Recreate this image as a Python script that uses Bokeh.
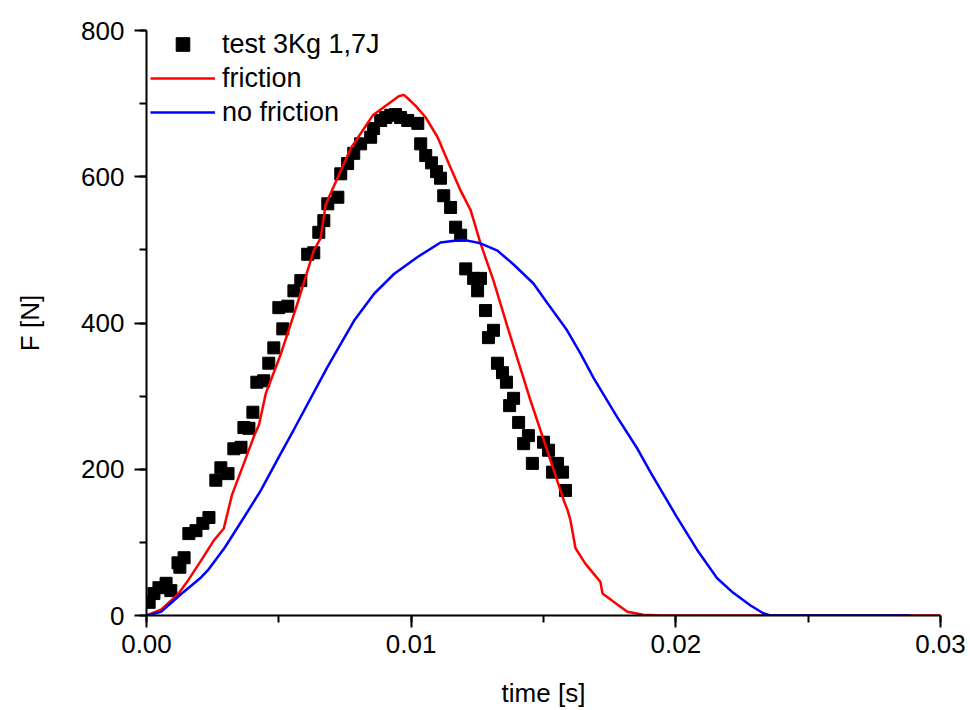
from bokeh.plotting import figure
from bokeh.models import Range1d, SingleIntervalTicker, PrintfTickFormatter, Legend, LegendItem
from bokeh.embed import file_html
from bokeh.resources import INLINE

# measured data: test 3Kg 1,7J
test_t = [0.0001, 0.00028, 0.00047, 0.00074, 0.00092, 0.00119, 0.00126, 0.00142, 0.00160, 0.00187,
          0.00213, 0.00236, 0.00262, 0.00281, 0.00308, 0.00330, 0.00357, 0.00368, 0.00387, 0.00402,
          0.00417, 0.00443, 0.00462, 0.00481, 0.00500, 0.00515, 0.00534, 0.00557, 0.00583, 0.00609,
          0.00632, 0.00651, 0.00670, 0.00685, 0.00723, 0.00734, 0.00760, 0.00783, 0.00809, 0.00847,
          0.00858, 0.00885, 0.00904, 0.00923, 0.00941, 0.00960, 0.00987, 0.01025, 0.01036, 0.01055,
          0.01077, 0.01096, 0.01111, 0.01123, 0.01149, 0.01168, 0.01187, 0.01206, 0.01236, 0.01262,
          0.01251, 0.01281, 0.01311, 0.01292, 0.01326, 0.01345, 0.01360, 0.01387, 0.01372, 0.01406,
          0.01425, 0.01443, 0.01458, 0.01500, 0.01519, 0.01534, 0.01553, 0.01572, 0.01583]
test_F = [18, 30, 38, 44, 34, 72, 66, 79, 112, 116,
          126, 134, 185, 202, 194, 228, 230, 257, 256, 278,
          319, 321, 345, 366, 421, 392, 423, 444, 458, 494,
          496, 524, 540, 563, 572, 604, 618, 632, 645, 654,
          666, 677, 681, 684, 685, 681, 677, 673, 645, 629,
          619, 607, 598, 574, 558, 531, 520, 474, 461, 461,
          444, 417, 390, 380, 345, 332, 319, 297, 287, 264,
          235, 246, 208, 237, 226, 196, 208, 196, 171]

# model with friction
fric_t = [0.0, 0.00055, 0.00119, 0.00157, 0.00206, 0.00255, 0.00292, 0.00323, 0.00368, 0.00406,
          0.00425, 0.00451, 0.00508, 0.00568, 0.00632, 0.00658, 0.00677, 0.00704, 0.00772, 0.00855,
          0.00953, 0.00972, 0.00985, 0.01017, 0.01055, 0.01100, 0.01142, 0.01187, 0.01225, 0.01262,
          0.01311, 0.01368, 0.01451, 0.01577, 0.01591, 0.01602, 0.01621, 0.01658, 0.01715, 0.01723,
          0.01779, 0.01817, 0.01877, 0.0194, 0.030]
fric_F = [0, 8, 29, 48, 75, 103, 119, 165, 208, 245,
          261, 304, 358, 424, 499, 516, 562, 584, 639, 684,
          710, 712, 708, 697, 681, 654, 618, 581, 554, 509,
          458, 390, 294, 157, 144, 130, 92, 71, 46, 30,
          15, 5, 1, 0, 0]

# model without friction
nofr_t = [0.0, 0.00055, 0.0013, 0.00206, 0.00232, 0.00296, 0.00368, 0.00432, 0.00508, 0.00558,
          0.00684, 0.00784, 0.00860, 0.00935, 0.01023, 0.01111, 0.01194, 0.01262, 0.01326, 0.01387,
          0.01462, 0.01515, 0.01589, 0.01640, 0.01689, 0.01779, 0.01855, 0.01904, 0.0200, 0.02080,
          0.02156, 0.02217, 0.02281, 0.02330, 0.02357, 0.02885]
nofr_F = [0, 5, 29, 52, 62, 93, 134, 171, 222, 255,
          340, 403, 440, 467, 490, 510, 514, 509, 499, 480,
          454, 427, 390, 358, 325, 271, 228, 196, 137, 90,
          51, 31, 14, 3, 0, 0]

FONT = "Liberation Sans"

p = figure(width=970, height=710, output_backend="svg", toolbar_location=None,
           x_range=Range1d(0, 0.03), y_range=Range1d(0, 800),
           min_border_left=146, min_border_right=30, min_border_top=30, min_border_bottom=95)
p.outline_line_color = None
p.xgrid.grid_line_color = None
p.ygrid.grid_line_color = None
p.background_fill_color = "white"
p.border_fill_color = "white"

sq = p.scatter(test_t, test_F, marker="square", size=12, fill_color="black", line_color="black")
rl = p.line(fric_t, fric_F, line_color="#ff0000", line_width=2.5)
bl = p.line(nofr_t, nofr_F, line_color="#0000ff", line_width=2.5)

p.xaxis.ticker = SingleIntervalTicker(interval=0.01, num_minor_ticks=2)
p.yaxis.ticker = SingleIntervalTicker(interval=200, num_minor_ticks=2)
p.xaxis.formatter = PrintfTickFormatter(format="%.2f")

for ax in (p.xaxis[0], p.yaxis[0]):
    ax.axis_line_width = 2
    ax.axis_line_color = "black"
    ax.major_tick_line_width = 2
    ax.minor_tick_line_width = 2
    ax.major_tick_line_color = "black"
    ax.minor_tick_line_color = "black"
    ax.major_tick_out = 12
    ax.major_tick_in = 0
    ax.minor_tick_out = 7
    ax.minor_tick_in = 0
    ax.major_label_text_font = FONT
    ax.major_label_text_font_size = "26px"
    ax.major_label_text_color = "black"
    ax.axis_label_text_font = FONT
    ax.axis_label_text_font_size = "26px"
    ax.axis_label_text_font_style = "normal"
    ax.axis_label_text_color = "black"

p.xaxis.axis_label = "time [s]"
p.yaxis.axis_label = "F [N]"
p.xaxis.major_label_standoff = 7
p.yaxis.major_label_standoff = 10
p.xaxis.axis_label_standoff = 22
p.yaxis.axis_label_standoff = 33

legend = Legend(items=[LegendItem(label="test 3Kg 1,7J", renderers=[sq]),
                       LegendItem(label="friction", renderers=[rl]),
                       LegendItem(label="no friction", renderers=[bl])],
                location=(4, 486), padding=0, margin=0, spacing=0,
                glyph_width=65, glyph_height=34, label_height=34, label_standoff=7,
                label_text_font=FONT, label_text_font_size="27px", label_text_color="black",
                background_fill_alpha=0, border_line_color=None)
p.add_layout(legend, "center")

open("out.html", "w").write(file_html(p, INLINE))
